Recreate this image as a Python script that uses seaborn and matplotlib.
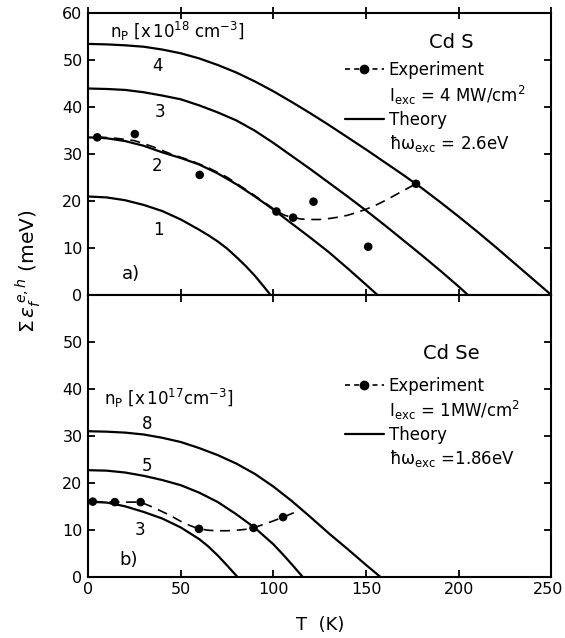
import numpy as np
import pandas as pd
import matplotlib
matplotlib.use("Agg")
import matplotlib.pyplot as plt
from matplotlib.lines import Line2D
from matplotlib.transforms import ScaledTranslation
import seaborn as sns

# ---------------- data ----------------
# CdS theory curves, n_P in 1e18 cm^-3
cds_T1 = [0, 10, 20, 30, 40, 50, 55, 60, 65, 70, 75, 80, 85, 90, 95, 98.5]
cds_E1 = [21.0, 20.8, 20.2, 19.2, 17.9, 16.1, 15.0, 13.9, 12.7, 11.4, 9.9, 8.1, 6.2, 4.1, 1.7, 0.0]
cds_T2 = [0, 10, 20, 30, 40, 50, 60, 70, 80, 90, 100, 110, 120, 130, 140, 150, 156.2]
cds_E2 = [33.6, 33.4, 32.8, 31.8, 30.4, 29.2, 27.8, 25.9, 23.6, 21.0, 18.2, 15.2, 12.2, 9.1, 5.7, 2.2, 0.0]
cds_T3 = [0, 10, 20, 30, 40, 50, 60, 70, 80, 90, 100, 110, 120, 130, 140, 150, 160, 170, 180, 190, 200, 205]
cds_E3 = [44.0, 43.9, 43.7, 43.2, 42.5, 41.7, 40.4, 38.9, 37.2, 35.0, 32.4, 29.6, 26.8, 23.9, 21.0, 18.0, 14.9, 11.7, 8.5, 5.2, 1.8, 0.0]
cds_T4 = [0, 10, 20, 30, 40, 50, 60, 70, 80, 90, 100, 110, 120, 130, 140, 150, 160, 170, 180, 190, 200, 210, 220, 230, 240, 250]
cds_E4 = [53.5, 53.4, 53.2, 52.9, 52.3, 51.5, 50.4, 49.0, 47.4, 45.5, 43.4, 41.1, 38.7, 36.2, 33.6, 31.0, 28.3, 25.6, 22.8, 19.8, 16.7, 13.5, 10.2, 6.8, 3.4, 0.0]
cds_labels = ["1", "2", "3", "4"]

# CdS experiment
cds_exp_T = [4.9, 25.2, 60.2, 101.6, 110.6, 121.6, 151.1, 176.9]
cds_exp_E = [33.6, 34.3, 25.6, 17.8, 16.5, 19.9, 10.3, 23.7]
# CdS dashed guide line
cds_guide_T = [4.9, 15, 25, 35, 45, 55, 65, 75, 85, 95, 101.6, 106, 110.6, 115, 120, 125,
               130, 135, 140, 145, 150, 155, 161.6, 168, 176.9]
cds_guide_E = [33.7, 33.4, 32.9, 31.6, 30.0, 28.7, 27.1, 25.1, 22.5, 19.8, 17.9, 17.0, 16.5, 16.2, 16.1, 16.1,
               16.3, 16.6, 17.0, 17.6, 18.3, 19.1, 20.4, 21.8, 23.7]

# CdSe theory curves, n_P in 1e17 cm^-3
cdse_T3 = [0, 10, 20, 30, 40, 50, 60, 65, 70, 75, 80.5]
cdse_E3 = [16.0, 15.8, 15.0, 13.8, 12.4, 10.5, 8.0, 6.4, 4.5, 2.4, 0.0]
cdse_T5 = [0, 10, 20, 30, 40, 50, 60, 70, 80, 90, 100, 105, 110, 115.7]
cdse_E5 = [22.7, 22.6, 22.2, 21.5, 20.6, 19.5, 17.9, 15.9, 13.3, 10.4, 6.9, 4.8, 2.6, 0.0]
cdse_T8 = [0, 10, 20, 30, 40, 50, 60, 70, 80, 90, 100, 110, 120, 130, 140, 150, 157.6]
cdse_E8 = [31.0, 30.9, 30.7, 30.3, 29.6, 28.7, 27.4, 25.9, 24.1, 21.9, 19.2, 16.1, 12.7, 9.2, 5.9, 2.5, 0.0]
cdse_labels = ["3", "5", "8"]

# CdSe experiment
cdse_exp_T = [2.5, 14.4, 28.3, 59.8, 89.2, 105.2]
cdse_exp_E = [16.0, 15.9, 15.9, 10.2, 10.4, 12.7]
cdse_guide_T = [2.5, 14.4, 28.3, 35, 43.6, 50, 55, 59.8, 65, 70, 75, 80, 85, 89.2, 95, 100, 105.2, 112]
cdse_guide_E = [16.0, 15.9, 15.9, 14.8, 13.2, 11.8, 10.9, 10.2, 9.9, 9.8, 9.8, 9.9, 10.1, 10.4, 11.2, 11.9, 12.7, 13.8]

x_ticks = [0, 50, 100, 150, 200, 250]
y_ticks = [0, 10, 20, 30, 40, 50, 60]

# ---------------- style ----------------
sns.set_theme(style="ticks")
plt.rcParams["font.family"] = ["DejaVu Sans"]
plt.rcParams["mathtext.fontset"] = "dejavusans"
for k in ("text.color", "axes.labelcolor", "xtick.color", "ytick.color", "axes.edgecolor"):
    plt.rcParams[k] = "black"
plt.rcParams["axes.linewidth"] = 1.5

LW = 1.6
FS = 12

fig = plt.figure(figsize=(5.65, 6.38), dpi=100)
left, right = 0.156, 0.976
bottom, top = 0.096, 0.979
mid = (bottom + top) / 2
ax1 = fig.add_axes([left, mid, right - left, top - mid])
ax2 = fig.add_axes([left, bottom, right - left, mid - bottom])


def draw_theory(ax, Ts, Es):
    for T, E in zip(Ts, Es):
        df = pd.DataFrame({"T": T, "E": E})
        sns.lineplot(data=df, x="T", y="E", ax=ax, color="black", lw=LW,
                     sort=False, estimator=None)


def draw_exp(ax, gT, gE, eT, eE):
    dg = pd.DataFrame({"T": gT, "E": gE})
    sns.lineplot(data=dg, x="T", y="E", ax=ax, color="black", lw=1.2,
                 linestyle=(0, (6, 4)), sort=False, estimator=None)
    de = pd.DataFrame({"T": eT, "E": eE})
    sns.scatterplot(data=de, x="T", y="E", ax=ax, color="black", s=38,
                    edgecolor="none", zorder=5)


draw_theory(ax1, [cds_T1, cds_T2, cds_T3, cds_T4], [cds_E1, cds_E2, cds_E3, cds_E4])
draw_exp(ax1, cds_guide_T, cds_guide_E, cds_exp_T, cds_exp_E)
draw_theory(ax2, [cdse_T3, cdse_T5, cdse_T8], [cdse_E3, cdse_E5, cdse_E8])
draw_exp(ax2, cdse_guide_T, cdse_guide_E, cdse_exp_T, cdse_exp_E)

for ax in (ax1, ax2):
    ax.set_xlim(0, 250)
    ax.set_ylim(0, 60)
    ax.set_xticks(x_ticks)
    ax.set_yticks(y_ticks)
    ax.set_xlabel("")
    ax.set_ylabel("")
    ax.tick_params(direction="in", length=5, width=1.3, top=True, right=True,
                   labelsize=FS - 0.5, pad=4, colors="black")
    for s in ax.spines.values():
        s.set_linewidth(1.5)
        s.set_color("black")

ax1.tick_params(axis="x", labelbottom=False, direction="inout", length=8)
ax1.set_yticklabels([str(v) for v in y_ticks])
ax2.set_yticklabels([str(v) for v in y_ticks[:-1]] + [""])
ax2.set_xticklabels([str(v) for v in x_ticks])
lab250 = ax2.get_xticklabels()[-1]
lab250.set_transform(lab250.get_transform() + ScaledTranslation(-3 / 100, 0, fig.dpi_scale_trans))

# curve labels, CdS
for (t, e), lab in zip([(37.8, 13.8), (37.3, 27.6), (39, 39.0), (37.3, 48.9)], cds_labels):
    ax1.text(t, e, lab, fontsize=FS, ha="center", va="center")
ax1.text(12, 56.2, r"n$_{\rm P}$ [x$\,$10$^{18}$ cm$^{-3}$]", fontsize=FS,
         ha="left", va="center")
ax1.text(22.9, 4.4, "a)", fontsize=FS + 1, ha="center", va="center")
ax1.text(196, 53.9, "Cd S", fontsize=FS + 2, ha="center", va="center")

# curve labels, CdSe
for (t, e), lab in zip([(27.9, 10.0), (31.5, 23.5), (31.9, 32.6)], cdse_labels):
    ax2.text(t, e, lab, fontsize=FS, ha="center", va="center")
ax2.text(8.4, 38.0, r"n$_{\rm P}$ [x$\,$10$^{17}$cm$^{-3}$]", fontsize=FS,
         ha="left", va="center")
ax2.text(22, 3.6, "b)", fontsize=FS + 1, ha="center", va="center")
ax2.text(195.8, 47.6, "Cd Se", fontsize=FS + 2, ha="center", va="center")


def add_legend(ax, l2, l4, y_anchor):
    h_exp = Line2D([], [], color="black", lw=1.2, linestyle=(0, (3, 2.5)),
                   marker="o", markersize=6)
    h_th = Line2D([], [], color="black", lw=LW)
    h_none = Line2D([], [], linestyle="none")
    leg = ax.legend([h_exp, h_none, h_th, h_none],
                    ["Experiment", l2, "Theory", l4],
                    loc="upper left", bbox_to_anchor=(0.555, y_anchor),
                    frameon=False, fontsize=FS, handlelength=2.3,
                    handletextpad=0.3, labelspacing=0.25, borderpad=0,
                    borderaxespad=0)
    for t in leg.get_texts():
        t.set_color("black")
    return leg


add_legend(ax1, r"I$_{\rm exc}$ = 4 MW/cm$^2$", "ħω$_{\\rm exc}$ = 2.6eV", 0.83)
add_legend(ax2, r"I$_{\rm exc}$ = 1MW/cm$^2$", "ħω$_{\\rm exc}$ =1.86eV", 0.71)

fig.text(0.05, 0.575, r"$\Sigma\,\varepsilon_f^{\,e,h}$ (meV)", rotation=90,
         fontsize=FS + 2.5, ha="center", va="center")
fig.text(0.566, 0.02, "T  (K)", fontsize=FS + 1, ha="center", va="center")

fig.savefig("out.png", dpi=100)
